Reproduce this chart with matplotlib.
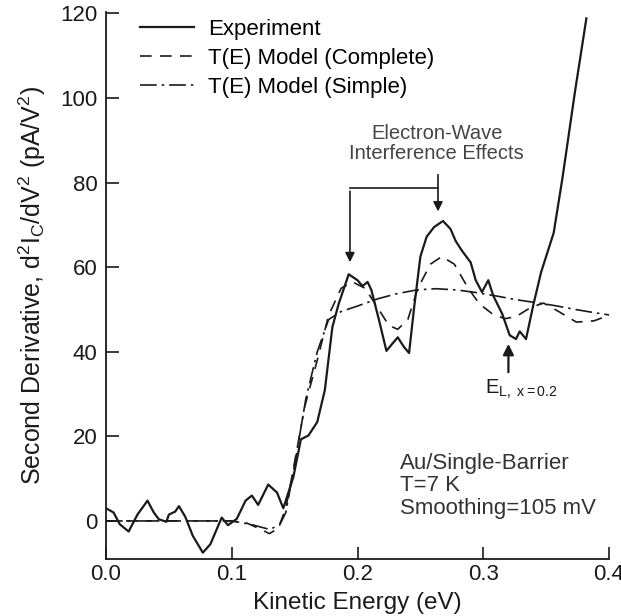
import matplotlib

matplotlib.use("Agg")
import matplotlib.pyplot as plt

# experiment (solid)
exp_x = [0.000, 0.006, 0.011, 0.018, 0.025, 0.033, 0.038, 0.042, 0.048, 0.050, 0.055, 0.058,
         0.063, 0.069, 0.077, 0.083, 0.092, 0.097, 0.104, 0.111, 0.116, 0.121, 0.129, 0.136,
         0.141, 0.149, 0.155, 0.161, 0.168, 0.174, 0.180, 0.185, 0.193, 0.200, 0.204, 0.208,
         0.211, 0.217, 0.223, 0.228, 0.232, 0.237, 0.241, 0.245, 0.250, 0.255, 0.261, 0.268,
         0.274, 0.278, 0.283, 0.290, 0.294, 0.299, 0.304, 0.308, 0.315, 0.321, 0.326, 0.329,
         0.334, 0.340, 0.346, 0.356, 0.363, 0.373, 0.382]
exp_y = [3.0, 2.0, -0.8, -2.5, 1.5, 4.8, 2.0, 0.4, -0.2, 1.5, 2.2, 3.5,
         1.0, -3.5, -7.5, -5.5, 0.8, -1.0, 0.5, 4.8, 6.0, 3.8, 8.6, 6.7,
         3.0, 10.4, 19.3, 20.2, 23.4, 30.9, 45.8, 51.3, 58.3, 56.9, 55.5, 56.5,
         54.6, 47.6, 40.2, 42.0, 43.4, 41.1, 39.7, 50.4, 62.5, 67.2, 69.5, 70.9,
         69.0, 66.2, 63.9, 61.1, 56.9, 54.1, 56.9, 53.2, 49.0, 43.9, 43.0, 44.8,
         43.0, 51.3, 58.8, 68.1, 81.1, 101.6, 118.8]

# T(E) model, complete (dashed)
comp_x = [0.000, 0.100, 0.112, 0.121, 0.130, 0.137, 0.143, 0.149, 0.158, 0.168, 0.177, 0.187,
          0.196, 0.206, 0.216, 0.225, 0.232, 0.240, 0.248, 0.258, 0.267, 0.277, 0.288, 0.297,
          0.307, 0.317, 0.326, 0.338, 0.348, 0.360, 0.374, 0.388, 0.400]
comp_y = [0.0, 0.0, -0.5, -1.7, -3.0, -1.7, 3.0, 12.3, 27.0, 38.0, 48.6, 55.0,
          56.5, 55.0, 50.4, 46.2, 45.3, 47.6, 55.0, 60.7, 62.5, 60.7, 55.0, 51.3,
          49.0, 47.8, 48.3, 50.5, 51.5, 49.5, 47.0, 47.3, 48.6]

# T(E) model, simple (dash-dot)
simp_x = [0.000, 0.100, 0.115, 0.130, 0.138, 0.143, 0.151, 0.159, 0.168, 0.177, 0.187, 0.200,
          0.216, 0.231, 0.247, 0.262, 0.279, 0.294, 0.310, 0.326, 0.342, 0.357, 0.373, 0.389,
          0.400]
simp_y = [0.0, 0.0, -0.8, -2.0, -1.0, 2.0, 15.0, 29.0, 40.0, 47.6, 49.5, 50.8,
          52.5, 53.7, 54.6, 54.9, 54.6, 54.0, 53.2, 52.3, 51.6, 50.9, 50.0, 49.2,
          48.7]

xticks = [0.0, 0.1, 0.2, 0.3, 0.4]
yticks = [0, 20, 40, 60, 80, 100, 120]

plt.rcParams["font.family"] = ["Liberation Sans", "DejaVu Sans"]
plt.rcParams["mathtext.fontset"] = "custom"
plt.rcParams["mathtext.rm"] = "Liberation Sans"
plt.rcParams["mathtext.it"] = "Liberation Sans"

ink = "#1a1a1a"
fig = plt.figure(figsize=(6.21, 6.16), dpi=100)
ax = fig.add_axes([0.1707, 0.0925, 0.81, 0.888])

ax.plot(exp_x, exp_y, "-", color=ink, lw=1.6, label="Experiment")
ax.plot(comp_x, comp_y, color=ink, lw=1.2, ls=(0, (7, 5)), label="T(E) Model (Complete)")
ax.plot(simp_x, simp_y, color=ink, lw=1.2, ls=(0, (10, 3, 1.5, 3)), label="T(E) Model (Simple)")

ax.set_xlim(0, 0.4)
ax.set_ylim(-9, 120.3)
ax.set_xticks(xticks)
ax.set_xticklabels([f"{t:.1f}" for t in xticks])
ax.set_yticks(yticks)
for s in ("top", "right"):
    ax.spines[s].set_visible(False)
for s in ("left", "bottom"):
    ax.spines[s].set_linewidth(1.3)
    ax.spines[s].set_color(ink)
ax.tick_params(direction="in", length=9, width=1.2, colors=ink, labelsize=16)
ax.tick_params(axis="x", pad=3.5)
ax.tick_params(axis="y", pad=6)

ax.set_xlabel("Kinetic Energy (eV)", fontsize=17.5, color=ink, labelpad=5)
ax.set_ylabel(r"Second Derivative, d$^2$I$_\mathrm{C}$/dV$^2$ (pA/V$^2$)",
              fontsize=18, color=ink, labelpad=9)

ax.legend(loc="upper left", bbox_to_anchor=(0.068, 0.987), frameon=False, fontsize=16,
          handlelength=2.43, handletextpad=0.63, labelspacing=0.35, borderaxespad=0, borderpad=0)

# annotation: interference bracket
gray = "#444444"
ax.text(0.263, 84.6, "Electron-Wave\nInterference Effects", ha="center", va="bottom",
        fontsize=14.5, color=gray, linespacing=1.05)
ax.plot([0.194, 0.264], [78.6, 78.6], color=ink, lw=1.2)
ax.annotate("", xy=(0.194, 60.5), xytext=(0.194, 78.6),
            arrowprops=dict(arrowstyle="-|>", color=ink, lw=1.2, mutation_scale=14))
ax.annotate("", xy=(0.264, 72.5), xytext=(0.264, 82.5),
            arrowprops=dict(arrowstyle="-|>", color=ink, lw=1.2, mutation_scale=14))

# E_L arrow
ax.annotate("", xy=(0.320, 42.5), xytext=(0.320, 34.5),
            arrowprops=dict(arrowstyle="-|>", color=ink, lw=1.6, mutation_scale=16))
ax.text(0.301, 31, r"E$_\mathrm{L,\ x=0.2}$", ha="left", va="center", fontsize=14.5, color=ink)

ax.text(0.234, 8.3, "Au/Single-Barrier\nT=7 K\nSmoothing=105 mV", ha="left", va="center",
        fontsize=16, color="#333333", linespacing=1.08)

fig.savefig("out.png", dpi=100)
